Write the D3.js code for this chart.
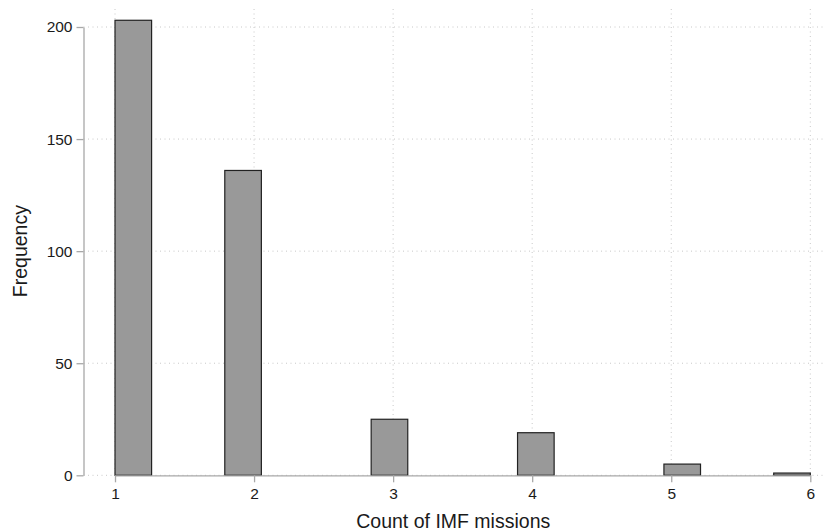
<!DOCTYPE html>
<html>
<head>
<meta charset="utf-8">
<script src="https://cdn.jsdelivr.net/npm/d3@7"></script>
<style>
  body { margin: 0; background: #fff; }
  text { font-family: "Liberation Sans", Arial, Helvetica, sans-serif; fill: #1a1a1a; }
  .grid line { stroke: #c8c8c8; stroke-width: 1; stroke-dasharray: 1,3.5; }
</style>
</head>
<body>
<div id="chart"></div>
<script>
const missionCounts = [1, 2, 3, 4, 5, 6];
const frequencies = [203, 136, 25, 19, 5, 1];
const xTicks = [1, 2, 3, 4, 5, 6];
const yTicks = [0, 50, 100, 150, 200];
const binCount = 19;

const width = 823, height = 531;
const margin = {left: 83.5, right: 0, top: 9, bottom: 56};

const x = d3.scaleLinear().domain([1, 6]).range([115, 810.3]);
const y = d3.scaleLinear().domain([0, 200]).range([475.3, 27]);

// rebuild the observations and bin them like the original histogram
const obs = [];
missionCounts.forEach((v, i) => { for (let k = 0; k < frequencies[i]; k++) obs.push(v); });
const bw = (6 - 1) / binCount;
const bins = d3.bin()
  .domain([1, 6])
  .thresholds(d3.range(1, binCount).map(i => 1 + i * bw))(obs)
  .filter(b => b.length > 0);

const svg = d3.select("#chart").append("svg")
  .attr("width", width)
  .attr("height", height);

// gridlines
const grid = svg.append("g").attr("class", "grid");
grid.selectAll(".hgrid").data(yTicks)
  .join("line")
  .attr("class", "hgrid")
  .attr("x1", margin.left).attr("x2", width)
  .attr("y1", d => y(d)).attr("y2", d => y(d));
grid.selectAll(".vgrid").data(xTicks)
  .join("line")
  .attr("class", "vgrid")
  .attr("x1", d => x(d)).attr("x2", d => x(d))
  .attr("y1", margin.top).attr("y2", y(0));

// bars
svg.append("g").selectAll("rect").data(bins)
  .join("rect")
  .attr("x", d => x(d.x0))
  .attr("width", d => x(d.x1) - x(d.x0))
  .attr("y", d => y(d.length))
  .attr("height", d => y(0) - y(d.length))
  .attr("fill", "#999999")
  .attr("stroke", "#222")
  .attr("stroke-width", 1.2);

// axes
const yAxis = svg.append("g")
  .attr("transform", `translate(${margin.left},0)`)
  .call(d3.axisLeft(y).tickValues(yTicks).tickFormat(d3.format("d"))
    .tickSize(7).tickPadding(4).tickSizeOuter(0));
const xAxis = svg.append("g")
  .attr("transform", `translate(0,${y(0)})`)
  .call(d3.axisBottom(x).tickValues(xTicks).tickFormat(d3.format("d"))
    .tickSize(7).tickPadding(6).tickSizeOuter(0));

[yAxis, xAxis].forEach(g => {
  g.select(".domain").attr("stroke", "#a8a8a8").attr("stroke-width", 1.3);
  g.selectAll(".tick line").attr("stroke", "#a8a8a8").attr("stroke-width", 1.3);
  g.selectAll(".tick text")
    .style("font-family", '"Liberation Sans", Arial, sans-serif')
    .style("font-size", "15.5px")
    .attr("fill", "#1a1a1a");
});

// axis titles
svg.append("text")
  .attr("x", (margin.left + width) / 2)
  .attr("y", 528)
  .attr("text-anchor", "middle")
  .style("font-size", "19.5px")
  .text("Count of IMF missions");

svg.append("text")
  .attr("transform", `translate(27,${(y(0) + y(200)) / 2}) rotate(-90)`)
  .attr("text-anchor", "middle")
  .style("font-size", "19.5px")
  .text("Frequency");
</script>
</body>
</html>
